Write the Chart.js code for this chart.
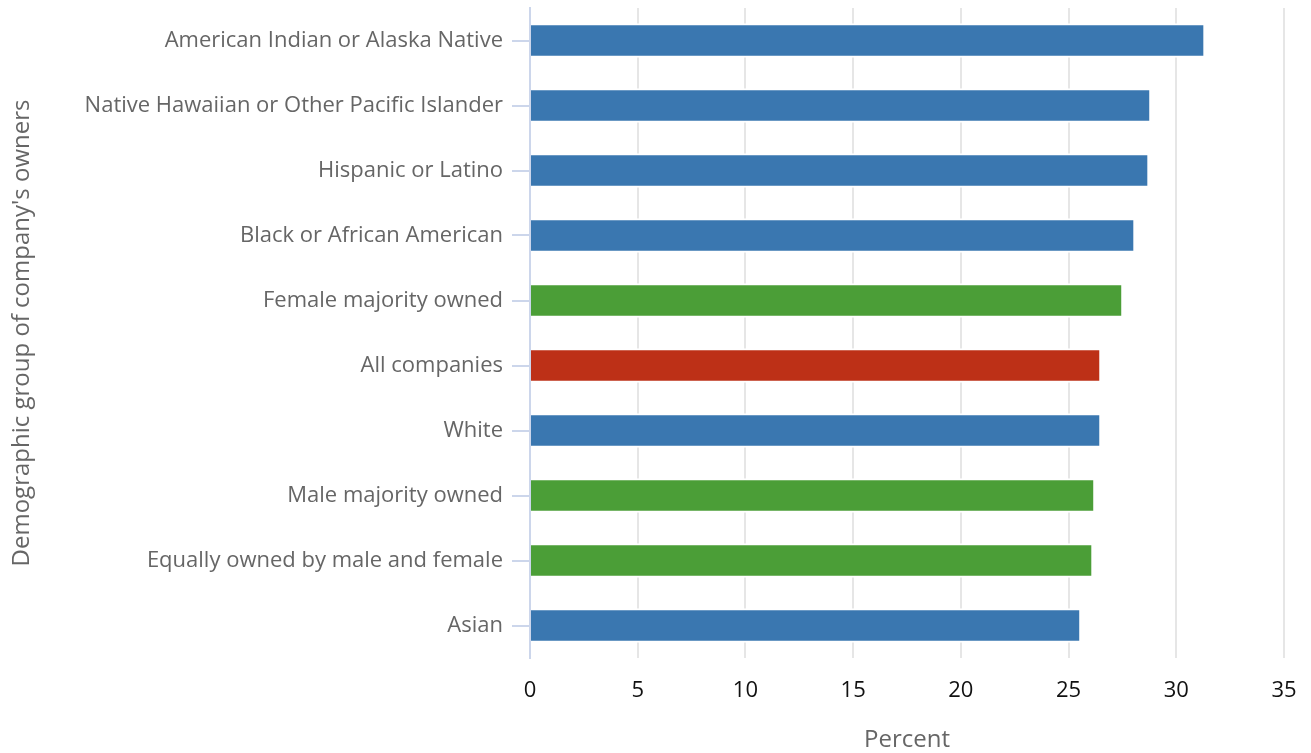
<!DOCTYPE html>
<html>
<head>
<meta charset="utf-8">
<script src="https://cdn.jsdelivr.net/npm/chart.js@4/dist/chart.umd.min.js"></script>
<style>
  html, body { margin: 0; padding: 0; background: #fff; }
  #wrap { width: 1311px; height: 753px; position: relative; }
</style>
</head>
<body>
<div id="wrap"><canvas id="chart"></canvas></div>
<script>
// Share of companies per owner group (percent)
var groups = [
  'American Indian or Alaska Native',
  'Native Hawaiian or Other Pacific Islander',
  'Hispanic or Latino',
  'Black or African American',
  'Female majority owned',
  'All companies',
  'White',
  'Male majority owned',
  'Equally owned by male and female',
  'Asian'
];
var percents = [31.26, 28.75, 28.66, 28.01, 27.45, 26.43, 26.43, 26.15, 26.06, 25.5];
var kinds = ['race', 'race', 'race', 'race', 'sex', 'all', 'race', 'sex', 'sex', 'race'];
var xTicks = [0, 5, 10, 15, 20, 25, 30, 35];

var kindColor = { race: '#3a77b0', sex: '#4b9e37', all: '#bd3017' };
var axisColor = '#ccd6eb';

Chart.defaults.font.family = '"Open Sans", sans-serif';

// redraw the left axis line on top of the bars
var axisOnTop = {
  id: 'axisOnTop',
  afterDatasetsDraw: function (chart) {
    var a = chart.chartArea, c = chart.ctx;
    c.save();
    c.strokeStyle = axisColor;
    c.lineWidth = 2;
    c.beginPath();
    c.moveTo(a.left, a.top);
    c.lineTo(a.left, a.bottom);
    c.stroke();
    c.restore();
  }
};

new Chart(document.getElementById('chart'), {
  type: 'bar',
  data: {
    labels: groups,
    datasets: [{
      data: percents,
      backgroundColor: kinds.map(function (k) { return kindColor[k]; }),
      borderColor: '#ffffff',
      borderWidth: { top: 2, bottom: 2, left: 0, right: 0 },
      borderSkipped: false,
      barThickness: 34
    }]
  },
  plugins: [axisOnTop],
  options: {
    indexAxis: 'y',
    responsive: true,
    maintainAspectRatio: false,
    animation: false,
    layout: { padding: { top: 8, right: 27, left: 0, bottom: 0 } },
    plugins: {
      legend: { display: false },
      tooltip: { enabled: false }
    },
    scales: {
      x: {
        min: 0,
        max: 35,
        afterBuildTicks: function (s) {
          s.ticks = xTicks.map(function (v) { return { value: v }; });
        },
        afterFit: function (s) {
          s.height = 95;
          s.paddingLeft = 0;
          s.paddingRight = 0;
        },
        grid: { color: '#e6e6e6', lineWidth: 2, drawTicks: false },
        border: { display: false },
        ticks: { color: '#111', font: { size: 22 }, padding: 20 },
        title: {
          display: true,
          text: 'Percent',
          color: '#666',
          font: { size: 24, lineHeight: 1.1 },
          padding: { top: 10, bottom: 0 }
        }
      },
      y: {
        afterFit: function (s) {
          s.width = 530;
          s.paddingTop = 0;
          s.paddingBottom = 0;
        },
        grid: { offset: false, drawOnChartArea: false, color: axisColor, lineWidth: 2, tickLength: 18 },
        border: { display: true, color: axisColor, width: 2 },
        ticks: { color: '#666', font: { size: 22 }, padding: 9 },
        title: {
          display: true,
          text: "Demographic group of company's owners",
          color: '#666',
          font: { size: 24 },
          padding: { top: 8, bottom: 0 }
        }
      }
    }
  }
});
</script>
</body>
</html>
